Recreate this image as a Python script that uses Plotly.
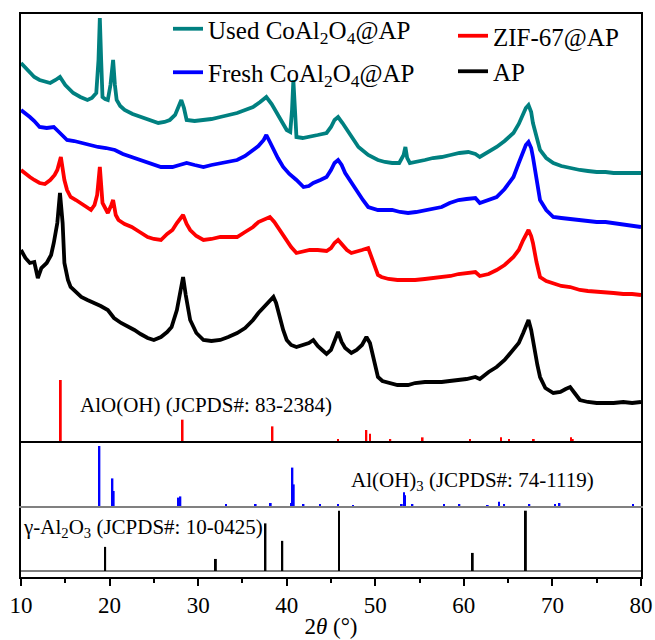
import plotly.graph_objects as go

# ---------------- data ----------------
# AP
tt_ap = [10.0, 10.5, 11.0, 11.5, 11.9, 12.3, 12.9, 13.4, 13.7, 14.1, 14.4, 14.7, 14.9, 15.3, 15.6, 16.2, 16.8, 17.5, 18.3, 19.0,
         19.8, 20.5, 21.3, 22.0, 22.8, 23.5, 24.3, 25.0, 25.8, 26.5, 27.0, 27.6, 28.0, 28.3, 28.6, 29.1, 29.8, 30.6, 31.5, 32.5,
         33.4, 34.4, 35.3, 36.2, 36.8, 37.4, 38.1, 38.5, 38.8, 39.2, 39.6, 40.0, 40.5, 41.1, 41.8, 42.5, 43.0, 43.5, 44.0, 44.5,
         45.0, 45.4, 45.8, 46.2, 46.6, 47.3, 47.9, 48.5, 49.0, 49.4, 49.8, 50.3, 50.8, 51.5, 52.5, 53.7, 54.5, 55.6, 56.5, 57.5,
         58.4, 59.4, 60.3, 61.3, 61.8, 62.8, 63.7, 64.6, 65.6, 66.2, 66.7, 67.0, 67.3, 67.6, 67.9, 68.3, 68.6, 69.2, 70.1, 70.9,
         71.5, 72.0, 72.5, 73.1, 74.0, 75.0, 76.0, 76.9, 78.0, 79.0, 80.0]
int_ap = [191, 183, 178, 179, 163, 173, 178, 186, 198, 218, 248, 218, 178, 161, 154, 149, 144, 141, 138, 135,
          131, 123, 118, 115, 111, 107, 103, 101, 104, 109, 114, 131, 151, 164, 146, 121, 108, 101, 100, 101,
          104, 108, 113, 121, 128, 134, 141, 144, 138, 124, 111, 101, 96, 94, 96, 98, 101, 95, 91, 87,
          91, 101, 109, 99, 93, 88, 91, 96, 104, 98, 84, 64, 60, 58, 56, 56, 58, 59, 59, 59,
          60, 61, 62, 64, 62, 69, 74, 81, 91, 98, 108, 116, 121, 111, 94, 76, 64, 53, 48, 49,
          52, 54, 48, 41, 39, 38, 38, 38, 39, 38, 39]

# ZIF-67@AP
tt_zif = [10.0, 10.5, 11.0, 11.5, 12.1, 12.7, 13.3, 13.8, 14.1, 14.5, 14.9, 15.2, 15.6, 16.2, 16.8, 17.4, 17.9, 18.3, 18.6, 18.9,
          19.2, 19.5, 19.8, 20.2, 20.4, 20.7, 21.0, 21.7, 22.5, 23.4, 24.3, 25.0, 25.8, 26.5, 27.1, 27.6, 28.0, 28.3, 28.7, 29.1,
          29.8, 30.6, 31.5, 32.5, 33.4, 34.4, 35.3, 36.2, 36.8, 37.4, 38.1, 38.6, 39.2, 39.6, 40.0, 40.5, 41.1, 41.8, 42.6, 43.5,
          44.5, 45.0, 45.4, 45.8, 46.3, 46.8, 47.3, 47.9, 48.5, 49.2, 49.6, 50.0, 50.3, 50.7, 51.5, 52.5, 53.7, 54.5, 55.6, 56.5,
          57.5, 58.5, 59.4, 60.3, 61.3, 61.8, 62.8, 63.7, 64.6, 65.6, 66.2, 66.7, 67.0, 67.3, 67.6, 67.8, 68.2, 68.6, 69.3, 70.1,
          71.0, 72.0, 73.1, 74.0, 75.0, 76.0, 76.9, 78.0, 79.0, 80.0]
int_zif = [271, 267, 264, 261, 258, 257, 261, 266, 271, 284, 261, 251, 244, 241, 238, 234, 231, 236, 246, 274,
           238, 233, 228, 236, 241, 226, 221, 217, 214, 209, 204, 202, 201, 207, 211, 218, 223, 226, 217, 211,
           205, 201, 202, 204, 204, 204, 209, 214, 219, 221, 224, 219, 211, 206, 201, 194, 188, 189, 191, 191,
           190, 193, 198, 201, 196, 191, 188, 190, 191, 193, 183, 171, 166, 164, 162, 161, 161, 161, 162, 163,
           164, 165, 167, 168, 169, 165, 167, 171, 176, 184, 191, 201, 207, 211, 205, 198, 179, 164, 160, 158,
           155, 154, 151, 150, 149, 148, 148, 147, 147, 146]

# Fresh CoAl2O4@AP
tt_fresh = [10.0, 10.5, 11.0, 11.5, 12.1, 12.9, 13.7, 14.4, 15.2, 16.0, 16.8, 17.7, 18.7, 19.6, 20.6, 21.5, 22.5, 23.4, 24.3, 25.0,
            25.8, 26.5, 27.1, 27.9, 28.7, 29.6, 30.6, 31.5, 32.5, 33.4, 34.4, 35.3, 36.2, 36.8, 37.4, 37.7, 38.1, 38.5, 39.0, 39.6,
            40.3, 41.1, 41.9, 42.5, 43.0, 43.8, 44.5, 45.0, 45.4, 45.8, 46.2, 46.6, 47.3, 48.1, 48.6, 49.2, 49.8, 50.3, 51.1, 51.9,
            52.8, 53.7, 54.6, 55.6, 56.5, 57.5, 58.4, 59.4, 60.3, 61.3, 61.8, 62.8, 63.7, 64.6, 65.6, 66.2, 66.7, 67.0, 67.3, 67.6,
            67.8, 68.2, 68.6, 69.3, 70.1, 71.0, 72.0, 73.1, 74.0, 75.0, 76.0, 76.9, 78.0, 79.0, 80.0]
int_fresh = [331, 328, 324, 320, 314, 313, 314, 308, 301, 300, 298, 296, 294, 293, 291, 287, 284, 281, 278, 276,
             274, 274, 274, 276, 278, 276, 274, 276, 278, 279, 281, 285, 291, 295, 301, 306, 299, 291, 283, 274,
             267, 261, 254, 255, 258, 261, 264, 271, 278, 281, 276, 268, 258, 248, 241, 234, 232, 231, 231, 231,
             229, 228, 229, 231, 232, 234, 238, 241, 242, 243, 238, 241, 244, 252, 264, 278, 291, 296, 299, 293,
             284, 261, 241, 231, 224, 223, 222, 221, 220, 219, 219, 218, 216, 215, 214]

# Used CoAl2O4@AP
tt_used = [10.0, 10.5, 11.0, 11.5, 12.1, 12.7, 13.3, 13.9, 14.4, 15.0, 15.9, 16.7, 17.5, 18.0, 18.5, 18.75, 18.9, 19.05, 19.2, 19.5,
           19.8, 20.1, 20.4, 20.6, 20.8, 21.2, 21.7, 22.6, 23.6, 24.5, 25.5, 26.2, 26.8, 27.4, 27.8, 28.1, 28.4, 28.7, 29.6, 30.6,
           31.5, 32.5, 33.4, 34.4, 35.3, 36.2, 37.0, 37.7, 38.3, 38.9, 39.5, 40.0, 40.4, 40.6, 40.75, 40.9, 41.1, 41.8, 42.6, 43.5,
           44.5, 45.0, 45.4, 45.8, 46.3, 47.0, 47.6, 48.1, 49.2, 50.3, 51.1, 51.9, 52.7, 53.2, 53.4, 53.6, 53.9, 54.7, 55.6, 56.5,
           57.5, 58.5, 59.5, 60.5, 61.3, 61.8, 62.8, 63.7, 64.6, 65.6, 66.2, 66.7, 67.0, 67.3, 67.6, 67.8, 68.2, 68.6, 69.3, 70.1,
           71.0, 72.0, 73.1, 74.0, 75.0, 76.0, 76.9, 78.0, 79.0, 80.0]
int_used = [378, 373, 368, 364, 361, 359, 358, 361, 364, 356, 348, 344, 341, 343, 348, 381, 423, 381, 344, 342,
            341, 356, 381, 356, 341, 335, 331, 327, 324, 321, 318, 319, 321, 326, 334, 341, 333, 321, 320, 321,
            322, 324, 326, 328, 331, 334, 339, 344, 337, 328, 318, 311, 309, 331, 361, 331, 304, 303, 304, 306,
            308, 314, 321, 324, 318, 308, 301, 294, 286, 281, 279, 278, 278, 286, 294, 283, 278, 279, 281, 283,
            284, 286, 288, 289, 287, 284, 289, 294, 300, 308, 317, 328, 333, 336, 329, 318, 304, 291, 283, 278,
            275, 273, 271, 270, 269, 269, 268, 268, 268, 268]

# reference patterns (2theta, relative intensity %)
aloh_pos = [14.5, 28.25, 38.4, 45.8, 49.0, 49.4, 51.7, 55.35, 60.7, 64.2, 65.1, 67.9, 72.1, 72.3]
aloh_int = [100, 35, 24, 2, 18, 12, 2, 6, 2, 6, 3, 3, 6, 3]

aloh3_pos = [18.86, 20.33, 20.47, 27.82, 28.0, 33.15, 36.5, 38.2, 40.5, 40.65, 40.8, 41.9, 43.76, 45.8, 47.5,
             53.0, 53.23, 53.37, 54.2, 57.76, 59.5, 62.7, 63.98, 64.55, 67.4, 70.3, 70.8, 79.1]
aloh3_int = [100, 46, 25, 14, 16, 3, 2, 5, 5, 64, 36, 2, 2, 2, 1,
             3, 23, 18, 2, 2, 2, 1, 7, 3, 2, 2, 5, 2]

gal2o3_pos = [19.5, 32.0, 37.6, 39.5, 45.9, 61.0, 67.0]
gal2o3_int = [40, 20, 79, 50, 100, 30, 100]

x_ticks = [10, 20, 30, 40, 50, 60, 70, 80]

# ---------------- layout geometry ----------------
W, H = 655, 640
ML, MR, MT, MB = 21, 14, 14, 63
PH = H - MT - MB
PW = W - ML - MR


def fy(px):
    return (H - MB - px) / PH


def fx(px):
    return (px - ML) / PW


FONT = "Liberation Serif, Times New Roman, Times, serif"
TEAL, BLUE, RED, BLACK, GRAY = "#008080", "#0000FF", "#FF0000", "#000000", "#808080"

fig = go.Figure()

LW = 3.8
fig.add_trace(go.Scatter(x=tt_used, y=int_used, mode="lines", line=dict(color=TEAL, width=LW),
                         name="Used CoAl<sub>2</sub>O<sub>4</sub>@AP", xaxis="x2", yaxis="y",
                         legend="legend", legendgroup="used"))
fig.add_trace(go.Scatter(x=tt_fresh, y=int_fresh, mode="lines", line=dict(color=BLUE, width=LW),
                         name="Fresh CoAl<sub>2</sub>O<sub>4</sub>@AP", xaxis="x2", yaxis="y",
                         legend="legend", legendgroup="fresh"))
fig.add_trace(go.Scatter(x=tt_zif, y=int_zif, mode="lines", line=dict(color=RED, width=LW),
                         name="ZIF-67@AP", xaxis="x2", yaxis="y", legend="legend2"))
fig.add_trace(go.Scatter(x=tt_ap, y=int_ap, mode="lines", line=dict(color=BLACK, width=LW),
                         name="AP", xaxis="x2", yaxis="y", legend="legend2"))

fig.add_trace(go.Bar(x=aloh_pos, y=aloh_int, width=0.2, marker=dict(color=RED, line=dict(width=0)),
                     xaxis="x2", yaxis="y4", showlegend=False))
fig.add_trace(go.Bar(x=aloh3_pos, y=aloh3_int, width=0.2, marker=dict(color=BLUE, line=dict(width=0)),
                     xaxis="x3", yaxis="y2", showlegend=False))
fig.add_trace(go.Bar(x=gal2o3_pos, y=gal2o3_int, width=0.22, marker=dict(color=BLACK, line=dict(width=0)),
                     xaxis="x", yaxis="y3", showlegend=False))

noax = dict(showgrid=False, zeroline=False, showticklabels=False, ticks="")

fig.update_layout(
    width=W, height=H,
    margin=dict(l=ML, r=MR, t=MT, b=MB, autoexpand=False),
    paper_bgcolor="white", plot_bgcolor="rgba(0,0,0,0)",
    font=dict(family=FONT, color="black"),
    barmode="overlay",
    xaxis=dict(range=[10, 80], domain=[0, 1], anchor="y3", showline=True, linecolor=BLACK, linewidth=1.6,
               ticks="outside", ticklen=7, tickwidth=1.5, tickcolor=BLACK, tickvals=x_ticks,
               ticktext=[str(v) for v in x_ticks], tickfont=dict(size=23, family=FONT),
               minor=dict(ticks="outside", ticklen=4, tickwidth=1.5, tickcolor=BLACK, dtick=5, tick0=10),
               showgrid=False, zeroline=False, automargin=False,
               title=dict(text="2<i>θ</i> (°)", font=dict(size=23, family=FONT), standoff=0)),
    xaxis2=dict(range=[10, 80], domain=[0, 1], anchor="y", showline=True, mirror=True,
                linecolor=BLACK, linewidth=1.6, automargin=False, **noax),
    xaxis3=dict(range=[10, 80], domain=[0, 1], anchor="y2", showline=True, mirror=False,
                linecolor=GRAY, linewidth=1.6, automargin=False, **noax),
    yaxis=dict(domain=[fy(441), 1], anchor="x2", range=[0, 427], showline=True, mirror=True,
               linecolor=BLACK, linewidth=1.8, automargin=False, **noax),
    yaxis4=dict(domain=[fy(441), fy(380)], anchor="x2", range=[0, 100], showline=False, automargin=False, **noax),
    yaxis2=dict(domain=[fy(506), fy(441)], anchor="x3", range=[0, 108.3], showline=True, mirror=True,
                linecolor=BLACK, linewidth=1.8, automargin=False, **noax),
    yaxis3=dict(domain=[0, fy(506)], anchor="x", range=[-9.95, 107.8], showline=True, mirror=True,
                linecolor=BLACK, linewidth=1.8, showgrid=False, showticklabels=False, ticks="",
                zeroline=True, zerolinecolor=GRAY, zerolinewidth=1.6, automargin=False),
    legend=dict(x=fx(168), y=fy(6), xanchor="left", yanchor="top",
                bgcolor="rgba(0,0,0,0)", borderwidth=0, font=dict(size=25, family=FONT, color="black"),
                tracegroupgap=8),
    legend2=dict(x=fx(453), y=fy(13), xanchor="left", yanchor="top",
                 bgcolor="rgba(0,0,0,0)", borderwidth=0, font=dict(size=25, family=FONT, color="black"),
                 tracegroupgap=0),
)

ann_font = dict(size=21, family=FONT, color="black")
fig.add_annotation(text="AlO(OH) (JCPDS#: 83-2384)", xref="paper", yref="paper", x=fx(78), y=fy(405),
                   xanchor="left", yanchor="middle", showarrow=False, font=ann_font)
fig.add_annotation(text="Al(OH)<sub>3</sub> (JCPDS#: 74-1119)", xref="paper", yref="paper", x=fx(349), y=fy(481),
                   xanchor="left", yanchor="middle", showarrow=False, font=ann_font)
fig.add_annotation(text="γ-Al<sub>2</sub>O<sub>3</sub> (JCPDS#: 10-0425)", xref="paper", yref="paper", x=fx(21),
                   y=fy(528), xanchor="left", yanchor="middle", showarrow=False, font=ann_font)

fig.write_html("out.html")
